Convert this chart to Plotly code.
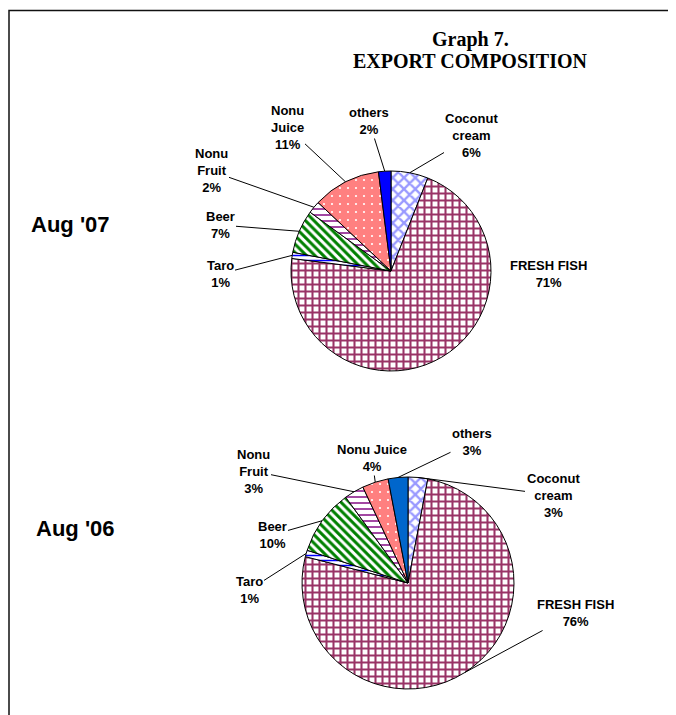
import math
import plotly.graph_objects as go

# ---------------- data ----------------
categories = ["Coconut cream", "FRESH FISH", "Taro", "Beer", "Nonu Fruit", "Nonu Juice", "others"]
aug07_pct = [6, 71, 1, 7, 2, 11, 2]
aug06_pct = [3, 76, 1, 10, 3, 4, 3]
labels07 = ["Coconut<br>cream", "FRESH FISH", "Taro", "Beer", "Nonu<br>Fruit", "Nonu<br>Juice", "others"]
labels06 = ["Coconut<br>cream", "FRESH FISH", "Taro", "Beer", "Nonu<br>Fruit", "Nonu Juice", "others"]
period_names = ["Aug '07", "Aug '06"]
title_lines = ["Graph 7.", "EXPORT COMPOSITION"]

# ---------------- styles ----------------
W, H = 676, 715
OFF = 8  # page body margin: page pixel P corresponds to figure pixel P - OFF
others07_color = "#0000FF"
others06_color = "#0066CC"
pat_shape = ["x", "+", "-", "\\", "-", ".", ""]
pat_fg = ["#9999FF", "#993366", "#0000FF", "#008000", "#993399", "#FFFFFF", None]
pat_bg = ["#FFFFFF", "#FFFFFF", "#FFFFFF", "#FFFFFF", "#FFFFFF", "#FF8080", None]
pat_size = [8, 7, 5, 6, 6, 8, 8]
pat_sol = [0.5, 0.5, 0.3, 0.5, 0.3, 0.06, 0.5]


def px(x):
    return (x - OFF) / W


def py(y):
    return 1 - (y - OFF) / H


# pie placement (page pixels): center x, center y, radius
pies = [
    dict(cx=391, cy=271, r=100, vals=aug07_pct, labels=labels07, others=others07_color),
    dict(cx=408, cy=583, r=106, vals=aug06_pct, labels=labels06, others=others06_color),
]
# label centres in page pixels (layout positions)
label_pos = [
    [(472, 136), (548, 274), (220, 274), (220, 225), (211, 171), (287, 127), (369, 121)],
    [(553, 495), (575, 613), (249, 590), (272, 535), (253, 471), (372, 458), (472, 442)],
]
show_line = [
    [True, False, True, True, True, True, True],
    [True, True, True, True, True, True, True],
]
name_pos = [(70, 224), (75, 528)]
title_pos = [(470, 40), (470, 61)]

FONT = "Arial, Liberation Sans, sans-serif"
SERIF = "Times New Roman, Liberation Serif, serif"
LBL_FONT = dict(family=FONT, size=13, color="black", weight="bold")

fig = go.Figure()
annotations = []
for k, p in enumerate(pies):
    fg = list(pat_fg)
    bg = list(pat_bg)
    fg[6] = p["others"]
    bg[6] = p["others"]
    fig.add_trace(go.Pie(
        labels=categories,
        values=p["vals"],
        sort=False,
        direction="clockwise",
        rotation=0,
        textinfo="none",
        hoverinfo="label+percent",
        showlegend=False,
        marker=dict(
            colors=list(bg),
            line=dict(color="black", width=1),
            pattern=dict(shape=pat_shape, fgcolor=fg, bgcolor=bg,
                         size=pat_size, solidity=pat_sol, fillmode="replace"),
        ),
        domain=dict(
            x=[px(p["cx"] - p["r"]), px(p["cx"] + p["r"])],
            y=[py(p["cy"] + p["r"]), py(p["cy"] - p["r"])],
        ),
    ))
    total = sum(p["vals"])
    cum = 0
    for i, v in enumerate(p["vals"]):
        mid = (cum + v / 2) / total
        cum += v
        ang = 2 * math.pi * mid
        tx = p["cx"] + p["r"] * math.sin(ang)
        ty = p["cy"] - p["r"] * math.cos(ang)
        lx, ly = label_pos[k][i]
        text = f"{p['labels'][i]}<br>{v}%"
        if show_line[k][i]:
            annotations.append(dict(
                x=px(tx), y=py(ty), xref="paper", yref="paper",
                ax=lx - tx, ay=ly - ty, axref="pixel", ayref="pixel",
                text=text, showarrow=True, arrowhead=0, arrowwidth=1,
                arrowcolor="black", standoff=0, startstandoff=0,
                font=LBL_FONT, align="center",
            ))
        else:
            annotations.append(dict(
                x=px(lx), y=py(ly), xref="paper", yref="paper",
                text=text, showarrow=False, font=LBL_FONT,
                align="center", xanchor="center", yanchor="middle",
            ))
    nx, ny = name_pos[k]
    annotations.append(dict(
        x=px(nx), y=py(ny), xref="paper", yref="paper",
        text=period_names[k], showarrow=False,
        font=dict(family=FONT, size=22, color="black", weight="bold"),
        xanchor="center", yanchor="middle",
    ))

for line, (tx, ty) in zip(title_lines, title_pos):
    annotations.append(dict(
        x=px(tx), y=py(ty), xref="paper", yref="paper",
        text=line, showarrow=False,
        font=dict(family=SERIF, size=20, color="black", weight="bold"),
        xanchor="center", yanchor="middle",
    ))

fig.update_layout(
    width=W, height=H,
    margin=dict(l=0, r=0, t=0, b=0),
    paper_bgcolor="white",
    plot_bgcolor="white",
    annotations=annotations,
    shapes=[dict(type="rect", xref="paper", yref="paper",
                 x0=1 / W, x1=1.02, y0=-0.02, y1=py(10.5),
                 line=dict(color="#111111", width=1.5), layer="below")],
)

fig.write_html("out.html")
